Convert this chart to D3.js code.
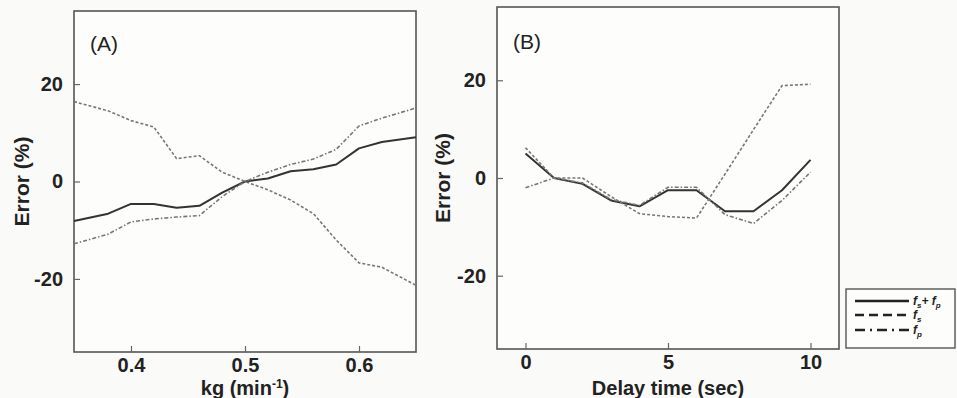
<!DOCTYPE html>
<html>
<head>
<meta charset="utf-8">
<script src="https://cdn.jsdelivr.net/npm/d3@7/dist/d3.min.js"></script>
<style>
  html, body { margin: 0; padding: 0; background: #fafaf8; }
  svg { display: block; }
  text { font-family: "Liberation Sans", Arial, Helvetica, sans-serif; fill: #222; }
</style>
</head>
<body>
<svg id="chart" width="957" height="398"></svg>
<script>
// Panel A: error vs. kg (min^-1)
const kgValues   = [0.35, 0.38, 0.40, 0.42, 0.44, 0.46, 0.48, 0.50, 0.52, 0.54, 0.56, 0.58, 0.60, 0.62, 0.65];
const kgBoth     = [-8.1, -6.6, -4.6, -4.6, -5.4, -5.0, -2.3, 0, 0.6, 2.1, 2.5, 3.5, 6.8, 8.1, 9.1];
const kgFs       = [16.4, 14.5, 12.5, 11.2, 4.7, 5.3, 1.9, 0, -1.7, -3.8, -6.6, -12.0, -16.7, -17.6, -21.3];
const kgFp       = [-12.8, -10.8, -8.3, -7.7, -7.3, -7.0, -3.1, 0, 1.9, 3.5, 4.6, 6.6, 11.4, 13.0, 15.1];

// Panel B: error vs. delay time (sec)
const delayValues = [0, 1, 2, 3, 4, 5, 6, 7, 8, 9, 10];
const delayBoth   = [5.0, 0, -1.2, -4.6, -5.8, -2.5, -2.5, -6.8, -6.8, -2.5, 3.7];
const delayFs     = [6.2, 0, 0, -3.8, -7.3, -7.9, -8.2, 0.8, 9.9, 18.9, 19.2];
const delayFp     = [-2.0, 0, -1.0, -4.4, -5.6, -1.9, -1.9, -7.5, -9.3, -4.6, 1.2];

const errorTicks = [-20, 0, 20];
const kgTicks    = [0.4, 0.5, 0.6];
const delayTicks = [0, 5, 10];

const seriesStyles = [
  { key: "both", label: ["f", "s", "+ f", "p"], stroke: "#333", width: 2.0, dash: null },
  { key: "fs",   label: ["f", "s"],            stroke: "#777", width: 1.6, dash: "3,2" },
  { key: "fp",   label: ["f", "p"],            stroke: "#777", width: 1.6, dash: "4,2,1.5,2" }
];

const svg = d3.select("#chart");
// plain hyphen for negative tick values
const intFmt = d => String(d);

function drawPanel(cfg) {
  const x = d3.scaleLinear().domain(cfg.xDomain).range([cfg.left, cfg.right]);
  const y = d3.scaleLinear().domain([-35, 35]).range([cfg.bottom, cfg.top]);
  const g = svg.append("g");

  g.append("rect")
    .attr("x", cfg.left).attr("y", cfg.top)
    .attr("width", cfg.right - cfg.left).attr("height", cfg.bottom - cfg.top)
    .attr("fill", "#fdfdfc").attr("stroke", "#555").attr("stroke-width", 1.6);

  const yAxis = g.append("g")
    .attr("transform", `translate(${cfg.left},0)`)
    .call(d3.axisLeft(y).tickValues(errorTicks).tickSize(-6).tickPadding(11).tickFormat(intFmt));
  const xAxis = g.append("g")
    .attr("transform", `translate(0,${cfg.bottom})`)
    .call(d3.axisBottom(x).tickValues(cfg.xTicks).tickSize(-6).tickPadding(6).tickFormat(cfg.xFormat));
  [yAxis, xAxis].forEach(a => {
    a.select(".domain").remove();
    a.selectAll(".tick line").attr("stroke", "#666").attr("stroke-width", 1.2);
    a.selectAll(".tick text")
      .attr("font-size", 20).attr("font-weight", "bold")
      .attr("font-family", "Liberation Sans, Arial, sans-serif").attr("fill", "#222");
  });

  const line = d3.line().x((d, i) => x(cfg.xs[i])).y(d => y(d));
  cfg.series.forEach((vals, i) => {
    const st = seriesStyles[i];
    g.append("path")
      .datum(vals)
      .attr("d", line)
      .attr("fill", "none")
      .attr("stroke", st.stroke)
      .attr("stroke-width", st.width)
      .attr("stroke-dasharray", st.dash)
      .attr("stroke-linejoin", "round");
  });

  g.append("text")
    .attr("x", cfg.left + cfg.tagDx).attr("y", cfg.top + cfg.tagDy)
    .attr("font-size", 21).text(cfg.tag);

  g.append("text")
    .attr("transform", `translate(${cfg.ylabelX},${(cfg.top + cfg.bottom) / 2}) rotate(-90)`)
    .attr("text-anchor", "middle")
    .attr("font-size", 21).attr("font-weight", "bold")
    .text("Error (%)");

  const xl = g.append("text")
    .attr("x", (cfg.left + cfg.right) / 2).attr("y", 395)
    .attr("text-anchor", "middle")
    .attr("font-size", 20).attr("font-weight", "bold");
  cfg.xlabel(xl);
}

drawPanel({
  left: 74, right: 416, top: 11, bottom: 352,
  xDomain: [0.35, 0.65], xTicks: kgTicks, xFormat: d3.format(".1f"),
  xs: kgValues, series: [kgBoth, kgFs, kgFp],
  tag: "(A)", tagDx: 16, tagDy: 40, ylabelX: 29,
  xlabel: t => {
    t.append("tspan").text("kg (min");
    t.append("tspan").attr("font-size", 12).attr("dy", -7).text("-1");
    t.append("tspan").attr("dy", 7).text(")");
  }
});

drawPanel({
  left: 497, right: 839, top: 7, bottom: 349,
  xDomain: [-1, 11], xTicks: delayTicks, xFormat: intFmt,
  xs: delayValues, series: [delayBoth, delayFs, delayFp],
  tag: "(B)", tagDx: 16, tagDy: 42, ylabelX: 450,
  xlabel: t => t.text("Delay time (sec)")
});

// Legend
const legend = svg.append("g");
legend.append("rect")
  .attr("x", 846).attr("y", 289).attr("width", 109).attr("height", 59)
  .attr("fill", "#fdfdfc").attr("stroke", "#555").attr("stroke-width", 1.4);
const legendYs = [301, 315, 330];
const legendDash = [null, "9,5", "10,5,2,5"];
seriesStyles.forEach((st, i) => {
  legend.append("line")
    .attr("x1", 855).attr("x2", 909)
    .attr("y1", legendYs[i]).attr("y2", legendYs[i])
    .attr("stroke", "#222").attr("stroke-width", 2.4)
    .attr("stroke-dasharray", legendDash[i]);
  const t = legend.append("text")
    .attr("x", 913).attr("y", legendYs[i] + 4)
    .attr("font-size", 12).attr("font-style", "italic").attr("font-weight", "bold");
  for (let k = 0; k < st.label.length; k += 2) {
    t.append("tspan").attr("dy", k === 0 ? 0 : -3).text(st.label[k]);
    t.append("tspan").attr("font-size", 8).attr("dy", 3).text(st.label[k + 1]);
  }
});
</script>
</body>
</html>
